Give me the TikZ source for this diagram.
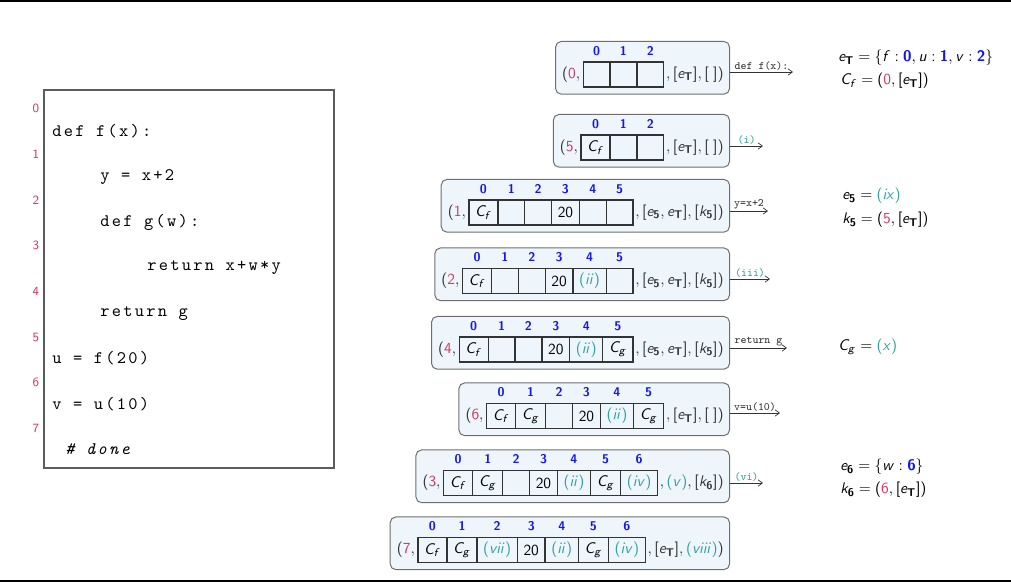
\documentclass[tikz,border=0pt]{standalone}
\usepackage[no-math]{fontspec}
\usepackage{tikz}
\usetikzlibrary{arrows.meta,positioning,fit,backgrounds}
% sans serif math from cmss
\DeclareSymbolFont{operators}{OT1}{cmss}{m}{n}
\SetSymbolFont{operators}{bold}{OT1}{cmss}{bx}{n}
\DeclareSymbolFont{sfletters}{OT1}{cmss}{m}{sl}
\DeclareMathAlphabet{\mathbf}{OT1}{cmss}{bx}{n}
\DeclareMathAlphabet{\mathit}{OT1}{cmss}{m}{sl}
\makeatletter
\@tfor\sf@ch:=abcdefghijklmnopqrstuvwxyzABCDEFGHIJKLMNOPQRSTUVWXYZ\do{%
  \edef\sf@tmp{\noexpand\DeclareMathSymbol{\sf@ch}{\noexpand\mathalpha}{sfletters}{`\sf@ch}}\sf@tmp}
\makeatother
\definecolor{numred}{HTML}{D6385A}
\definecolor{idxblue}{HTML}{1515F0}
\definecolor{tealc}{HTML}{2E9E9E}
\definecolor{boxfill}{HTML}{EEF6FC}
\definecolor{boxline}{HTML}{6E6E6E}
\definecolor{ink}{HTML}{333333}
\newfontfamily\codefont[LetterSpace=13,ItalicFont=lmmono10-italic.otf]{lmmono10-regular.otf}
\newcommand{\rlab}[1]{\textcolor{tealc}{(\mathit{#1})}}
\newcommand{\bnum}[1]{\textcolor{idxblue}{\mathbf{#1}}}
\newcommand{\rnum}[1]{\textcolor{numred}{#1}}
\newcommand{\eT}{e_{\mathbf{T}}}
% one state: name, y, head, cells (right to left), tail
\newcommand{\staterow}[5]{%
  \node[tailtxt,anchor=east] (#1-t) at (726,#2) {#5};
  \foreach \i/\c [remember=\i as \j (initially t)] in {#4}
    \node[cell,left=0pt of #1-\j,label={[idx,name=#1-l\i]above:\i}] (#1-\i) {\c};
  \node[headtxt,left=0pt of #1-0] (#1-h) {#3};
  \coordinate (#1-b) at ([yshift=-3pt]#1-0.south);
  \begin{scope}[on background layer]
    \node[statebox,fit=(#1-h)(#1-t)(#1-l0)(#1-b)] (#1) {};
  \end{scope}
}
\begin{document}
\begin{tikzpicture}[
  x=0.025cm,y=-0.025cm,
  font=\fontsize{11}{13}\selectfont,
  cell/.style={draw=ink,line width=0.9pt,outer sep=0pt,minimum width=0.67cm,minimum height=0.63cm,inner xsep=4.4pt,inner ysep=2pt},
  idx/.style={font=\small\sffamily\bfseries,text=idxblue,inner sep=1pt,label distance=3.5pt},
  headtxt/.style={inner xsep=2pt,inner ysep=0pt,minimum height=0.63cm,text=ink},
  tailtxt/.style={inner xsep=1.5pt,inner ysep=0pt,minimum height=0.63cm,text=ink},
  statebox/.style={draw=boxline,fill=boxfill,rounded corners=4pt,line width=0.7pt,inner xsep=2.5pt,inner ysep=2pt},
  arr/.style={-{Straight Barb[length=1.1mm,width=1.6mm]},ink,line width=0.5pt},
  steplbl/.style={font=\ttfamily\footnotesize,inner sep=1pt,text=ink},
  codeline/.style={anchor=west,inner sep=0pt,font={\codefont\fontsize{12.5}{14}\selectfont}},
  lineno/.style={font=\sffamily\small,text=numred,inner sep=0pt},
  note/.style={anchor=west,inner sep=0pt}
]
\useasboundingbox (0,0) rectangle (1011,585);
\draw[line width=0.9pt] (0,1) -- (1011,1);
\draw[line width=0.9pt] (0,581) -- (1011,581);

% program
\node[draw=ink!80,line width=0.8pt,minimum width=7.25cm,minimum height=9.45cm] (code) at (189,279) {};
\foreach \n/\y in {0/108,1/154,2/200,3/245,4/291,5/337,6/382,7/428}
  \node[lineno] (ln\n) at (36,\y) {\n};
\node[codeline] (c0) at (52,131) {def f(x):};
\node[codeline] (c1) at (100,177) {y = x+2};
\node[codeline] (c2) at (100,222) {def g(w):};
\node[codeline] (c3) at (147,268) {return x+w*y};
\node[codeline] (c4) at (100,314) {return g};
\node[codeline] (c5) at (52,358) {u = f(20)};
\node[codeline] (c6) at (52,404) {v = u(10)};
\node[codeline] (c7) at (65,449) {\itshape \# done};

% states
\staterow{s0}{74.5}{$(\rnum{0},$}{2/{},1/{},0/{}}{$,[\eT],[\;])$}
\staterow{s1}{147.5}{$(\rnum{5},$}{2/{},1/{},0/$C_f$}{$,[\eT],[\;])$}
\staterow{s2}{212.5}{$(\rnum{1},$}{5/{},4/{},3/$20$,2/{},1/{},0/$C_f$}{$,[e_{\mathbf{5}},\eT],[k_{\mathbf{5}}])$}
\staterow{s3}{281}{$(\rnum{2},$}{5/{},4/$\rlab{ii}$,3/$20$,2/{},1/{},0/$C_f$}{$,[e_{\mathbf{5}},\eT],[k_{\mathbf{5}}])$}
\staterow{s4}{349.5}{$(\rnum{4},$}{5/$C_g$,4/$\rlab{ii}$,3/$20$,2/{},1/{},0/$C_f$}{$,[e_{\mathbf{5}},\eT],[k_{\mathbf{5}}])$}
\staterow{s5}{416}{$(\rnum{6},$}{5/$C_g$,4/$\rlab{ii}$,3/$20$,2/{},1/$C_g$,0/$C_f$}{$,[\eT],[\;])$}
\staterow{s6}{483}{$(\rnum{3},$}{6/$\rlab{iv}$,5/$C_g$,4/$\rlab{ii}$,3/$20$,2/{},1/$C_g$,0/$C_f$}{$,\rlab{v},[k_{\mathbf{6}}])$}
\staterow{s7}{550}{$(\rnum{7},$}{6/$\rlab{iv}$,5/$C_g$,4/$\rlab{ii}$,3/$20$,2/$\rlab{vii}$,1/$C_g$,0/$C_f$}{$,[\eT],\rlab{viii})$}

% steps
\coordinate (a0) at (793,72);
\coordinate (a1) at (763,146);
\coordinate (a2) at (768,211);
\coordinate (a3) at (770,279);
\coordinate (a4) at (787,348);
\coordinate (a5) at (780,413);
\coordinate (a6) at (763,483);
\draw[arr] (s0.east |- a0) -- node[steplbl,above] {def f(x):} (a0);
\draw[arr] (s1.east |- a1) -- node[steplbl,above,text=tealc] {(i)} (a1);
\draw[arr] (s2.east |- a2) -- node[steplbl,above] {y=x+2} (a2);
\draw[arr] (s3.east |- a3) -- node[steplbl,above,text=tealc] {(iii)} (a3);
\draw[arr] (s4.east |- a4) -- node[steplbl,above] {return g} (a4);
\draw[arr] (s5.east |- a5) -- node[steplbl,above] {v=u(10)} (a5);
\draw[arr] (s6.east |- a6) -- node[steplbl,above,text=tealc] {(vi)} (a6);

% environments and closures
\node[note] (neT) at (838,58) {$\eT=\{f:\bnum{0},u:\bnum{1},v:\bnum{2}\}$};
\node[note] (nCf) at (840,81) {$C_f=(\rnum{0},[\eT])$};
\node[note] (ne5) at (842,196) {$e_{\mathbf{5}}=\rlab{ix}$};
\node[note] (nk5) at (842,220) {$k_{\mathbf{5}}=(\rnum{5},[\eT])$};
\node[note] (nCg) at (838,347) {$C_g=\rlab{x}$};
\node[note] (ne6) at (840,467) {$e_{\mathbf{6}}=\{w:\bnum{6}\}$};
\node[note] (nk6) at (840,490) {$k_{\mathbf{6}}=(\rnum{6},[\eT])$};
\end{tikzpicture}
\end{document}
